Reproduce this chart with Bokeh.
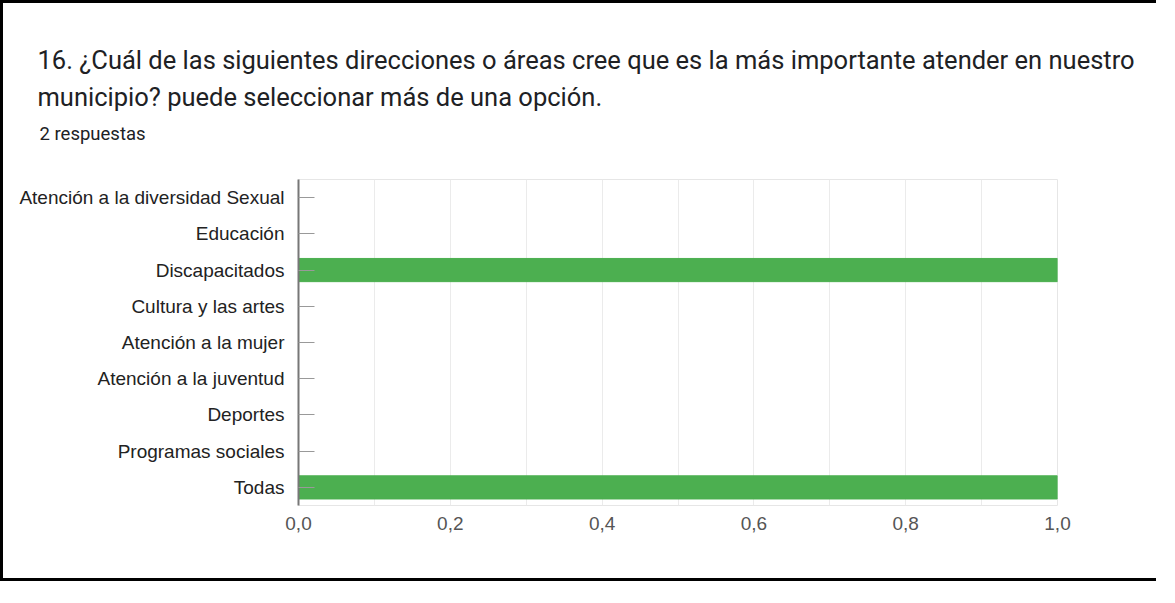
from bokeh.plotting import figure
from bokeh.models import Range1d, FactorRange, FixedTicker, SingleIntervalTicker, Title
from bokeh.embed import file_html
from bokeh.resources import INLINE

categories = ["Atención a la diversidad Sexual", "Educación", "Discapacitados",
              "Cultura y las artes", "Atención a la mujer", "Atención a la juventud",
              "Deportes", "Programas sociales", "Todas"]
values = [0, 0, 1, 0, 0, 0, 0, 0, 1]
x_ticks = [0.0, 0.2, 0.4, 0.6, 0.8, 1.0]
x_tick_labels = ["0,0", "0,2", "0,4", "0,6", "0,8", "1,0"]
title_line1 = "16. ¿Cuál de las siguientes direcciones o áreas cree que es la más importante atender en nuestro"
title_line2 = "municipio? puede seleccionar más de una opción."
subtitle = "2 respuestas"

W, H = 1156, 581
p = figure(width=W, height=H, output_backend="svg", toolbar_location=None,
           x_range=Range1d(0, 1.0), y_range=FactorRange(factors=categories[::-1], range_padding=0),
           min_border_left=295, min_border_right=102, min_border_top=176, min_border_bottom=79)
p.styles = {"border-left": "3px solid black", "border-top": "3px solid black",
            "border-bottom": "3px solid black"}

p.hbar(y=categories, right=values, left=0, height=0.64, color="#4caf50")

# titles (added nearest-first); first one is an empty spacer
p.add_layout(Title(text=" ", text_font_size="1px", standoff=26), "above")
p.add_layout(Title(text=subtitle, text_font="Roboto", text_font_size="18.5px",
                   text_color="#202124", text_font_style="normal", offset=-259, standoff=12), "above")
p.add_layout(Title(text=title_line2, text_font="Roboto", text_font_size="25.5px",
                   text_color="#202124", text_font_style="normal", offset=-261, standoff=5.4), "above")
p.add_layout(Title(text=title_line1, text_font="Roboto", text_font_size="25.5px",
                   text_color="#202124", text_font_style="normal", offset=-261, standoff=5.4), "above")

# x axis
p.xaxis.ticker = FixedTicker(ticks=x_ticks)
p.xaxis.major_label_overrides = dict(zip(x_ticks, x_tick_labels))
p.xaxis.axis_line_color = None
p.xaxis.major_tick_line_color = None
p.xaxis.minor_tick_line_color = None
p.xaxis.major_label_standoff = 5
p.xaxis.major_label_text_font = "Liberation Sans"
p.xaxis.major_label_text_font_size = "19px"
p.xaxis.major_label_text_color = "#555555"

# y axis
p.yaxis.axis_line_color = "#777777"
p.yaxis.axis_line_width = 2
p.yaxis.major_tick_in = 16
p.yaxis.major_tick_out = 0
p.yaxis.major_tick_line_color = "#999999"
p.yaxis.major_label_standoff = 14
p.yaxis.major_label_text_font = "Liberation Sans"
p.yaxis.major_label_text_font_size = "19px"
p.yaxis.major_label_text_color = "#222222"

p.xgrid.ticker = SingleIntervalTicker(interval=0.1)
p.xgrid.grid_line_color = "#ebebeb"
p.ygrid.grid_line_color = None
p.outline_line_color = "#e6e6e6"

open("out.html", "w").write(file_html(p, INLINE))
